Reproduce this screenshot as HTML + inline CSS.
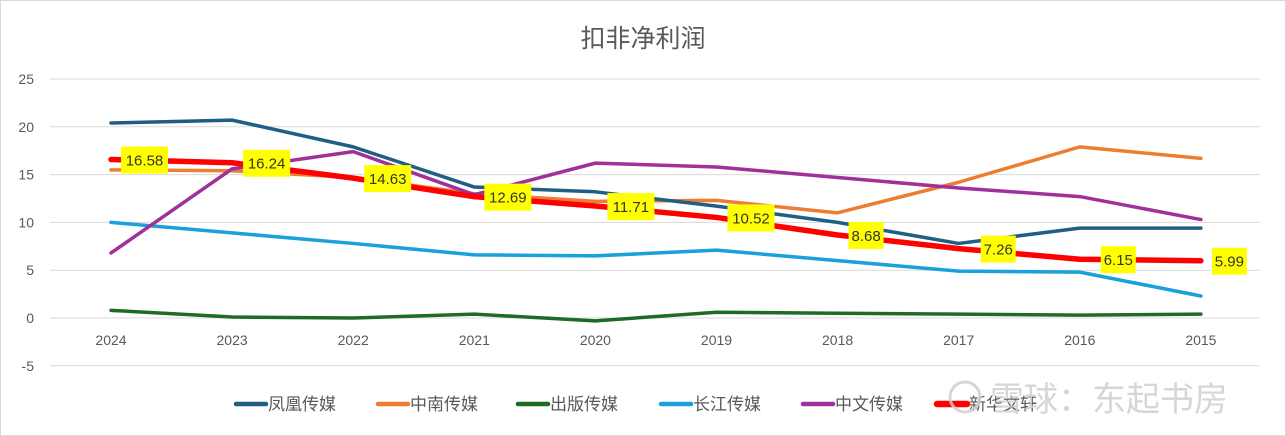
<!DOCTYPE html>
<html><head><meta charset="utf-8"><style>
body{margin:0;background:#fff;}
#wrap{position:relative;width:1286px;height:436px;overflow:hidden;background:#fff;}
svg text{font-family:"Liberation Sans","Noto Sans CJK SC",sans-serif;}
</style></head><body>
<div id="wrap">
<svg id="chart" width="1286" height="436"></svg>
</div>
<script>
const categories=["2024","2023","2022","2021","2020","2019","2018","2017","2016","2015"];
const fenghuang=[20.4,20.7,17.9,13.7,13.2,11.7,10.0,7.8,9.4,9.4];
const zhongnan=[15.5,15.4,14.7,13.0,12.2,12.3,11.0,14.2,17.9,16.7];
const chuban=[0.8,0.1,0.0,0.4,-0.3,0.6,0.5,0.4,0.3,0.4];
const changjiang=[10.0,8.9,7.8,6.6,6.5,7.1,6.0,4.9,4.8,2.3];
const zhongwen=[6.8,15.6,17.4,12.9,16.2,15.8,14.7,13.6,12.7,10.3];
const xinhua=[16.58,16.24,14.63,12.69,11.71,10.52,8.68,7.26,6.15,5.99];
const yTicks=[-5,0,5,10,15,20,25];
const seriesNames=["凤凰传媒","中南传媒","出版传媒","长江传媒","中文传媒","新华文轩"];

const NS="http://www.w3.org/2000/svg";
const svg=document.getElementById('chart');
function mk(tag,attrs,parent){const e=document.createElementNS(NS,tag);for(const k in attrs)e.setAttribute(k,attrs[k]);(parent||svg).appendChild(e);return e;}
const xS=i=>111+i*121.1;
const yS=v=>318-v*9.56;

const border=mk('rect',{x:0.5,y:0.5,width:1285,height:435,fill:'#fff',stroke:'#d9d9d9'});



const title=mk('text',{x:643,y:47,'text-anchor':'middle','font-size':25,fill:'#595959'});
title.textContent='扣非净利润';



yTicks.forEach(t=>{
  const g=mk('line',{x1:50,x2:1260,y1:yS(t),y2:yS(t),stroke:'#d9d9d9','stroke-width':1});
  
  
  const l=mk('text',{x:34,y:yS(t)+5,'text-anchor':'end','font-size':14,fill:'#595959'});
  l.textContent=t;
  
  
});
categories.forEach((c,i)=>{
  const l=mk('text',{x:xS(i),y:345,'text-anchor':'middle','font-size':14,fill:'#595959'});
  l.textContent=c;
  
  
});

const allSeries=[fenghuang,zhongnan,chuban,changjiang,zhongwen,xinhua];
const colors=['#1f5f83','#ed7d31','#1e6b26','#1aa0da','#a0309a','#ff0000'];
const widths=[3.5,3.5,3.5,3.5,3.5,5.5];
const order=[1,2,3,0,4,5];
order.forEach(s=>{
  const d=allSeries[s].map((v,i)=>(i?'L':'M')+xS(i)+','+yS(v)).join(' ');
  const p=mk('path',{d:d,fill:'none',stroke:colors[s],'stroke-width':widths[s],'stroke-linecap':'round','stroke-linejoin':'round'});
  
  
});

const offs=[10,11,11,10,12,11,11,22,21,11];
xinhua.forEach((v,i)=>{
  const txt=v.toFixed(2);
  const w=txt.length>4?47:35;
  const bx=xS(i)+offs[i], by=yS(v)-13;
  const r=mk('rect',{x:bx,y:by,width:w,height:27,fill:'#ffff00'});
  
  
  const t=mk('text',{x:bx+w/2,y:by+19,'text-anchor':'middle','font-size':15,fill:'#333'});
  t.textContent=txt;
  
  
});

const legX=[236,378,518,661,803,937];
seriesNames.forEach((n,s)=>{
  const g=mk('g',{});
  
  
  mk('line',{x1:legX[s],x2:legX[s]+30,y1:404,y2:404,stroke:colors[s],'stroke-width':widths[s]+1,'stroke-linecap':'round'},g);
  const t=mk('text',{x:legX[s]+32,y:410,'font-size':17,fill:'#595959'},g);
  t.textContent=n;
});

const wm=mk('g',{opacity:0.85});


mk('circle',{cx:965,cy:397,r:15,fill:'none',stroke:'#cfcfcf','stroke-width':3},wm);
const wt=mk('text',{x:990,y:411,'font-size':34,fill:'#cfcfcf'},wm);
wt.textContent='雪球：东起书房';
</script>
</body></html>
